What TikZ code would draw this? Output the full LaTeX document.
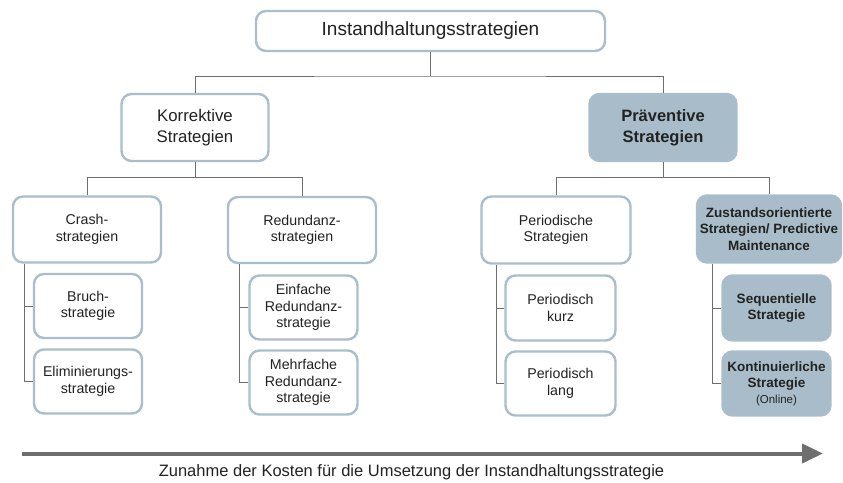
\documentclass[tikz,border=0pt]{standalone}
\usepackage{fontspec}
\setmainfont{Liberation Sans}
\usetikzlibrary{arrows.meta}
\definecolor{bord}{HTML}{A9BECA}
\definecolor{fillb}{HTML}{A8BDC9}
\definecolor{connc}{HTML}{6E6E6E}
\definecolor{txt}{HTML}{222222}
\begin{document}
\begin{tikzpicture}[x=1pt,y=-1pt,
  box/.style={draw=bord, line width=2.4pt, rounded corners=10pt, fill=white, align=center,
    text=txt, inner sep=0pt, anchor=center},
  pbox/.style={box, fill=fillb},
  lvtop/.style={font=\fontsize{19}{22}\selectfont},
  lvtwo/.style={font=\fontsize{16.8}{21}\selectfont},
  lvthree/.style={font=\fontsize{14.2}{16.5}\selectfont},
  lvbold/.style={font=\fontsize{13.5}{16.5}\selectfont\bfseries},
  conn/.style={draw=connc, line width=1pt}]
\useasboundingbox (0,0) rectangle (843,482);

% level 1
\node[box, lvtop, minimum width=349pt, minimum height=40pt] (top) at (430.5,31) {Instandhaltungsstrategien};
% level 2
\node[box, lvtwo, minimum width=147pt, minimum height=67pt] (korr) at (195,127.5) {Korrektive\\Strategien};
\node[pbox, font=\fontsize{16.5}{21}\selectfont\bfseries, minimum width=147pt, minimum height=67pt] (prav) at (663,127.5) {Präventive\\Strategien};
% level 3
\node[box, lvthree, minimum width=148pt, minimum height=66pt] (crash) at (87,229.5) {Crash-\\strategien};
\node[box, lvthree, minimum width=148pt, minimum height=66pt] (red) at (302,230) {Redundanz-\\strategien};
\node[box, lvthree, minimum width=149pt, minimum height=67pt] (per) at (556,230) {Periodische\\Strategien};
\node[pbox, lvbold, minimum width=144pt, minimum height=67pt] (zus) at (769,229) {Zustandsorientierte\\Strategien/ Predictive\\Maintenance};
% level 4
\node[box, lvthree, minimum width=108pt, minimum height=64pt] (bruch) at (88,306) {Bruch-\\strategie};
\node[box, lvthree, minimum width=108pt, minimum height=64pt] (elim) at (88,381.5) {Eliminierungs-\\strategie};
\node[box, lvthree, minimum width=108pt, minimum height=64pt] (einf) at (303.5,307.5) {Einfache\\Redundanz-\\strategie};
\node[box, lvthree, minimum width=108pt, minimum height=64pt] (mehr) at (303.5,382.5) {Mehrfache\\Redundanz-\\strategie};
\node[box, lvthree, minimum width=110pt, minimum height=65pt] (pkurz) at (560.5,308) {Periodisch\\kurz};
\node[box, lvthree, minimum width=110pt, minimum height=64pt] (plang) at (560.5,383.5) {Periodisch\\lang};
\node[pbox, lvbold, minimum width=108pt, minimum height=65pt] (seq) at (776.5,308) {Sequentielle\\Strategie};
\node[pbox, lvbold, minimum width=108pt, minimum height=64pt] (kont) at (776.5,383.5) {Kontinuierliche\\Strategie\\[-1pt]{\fontsize{11.5}{13}\selectfont\mdseries (Online)}};

% junctions
\coordinate (j1) at (430.5,76);
\coordinate (j2) at (195,177.5);
\coordinate (j3) at (663,177.5);
\coordinate (c1) at (24,264);
\coordinate (c2) at (239,264);
\coordinate (c3) at (496,265);
\coordinate (c4) at (712,264);

\draw[conn] (top.south) -- (j1);
\draw[conn] (korr.north) |- (j1) -| (prav.north);
\draw[conn] (korr.south) -- (j2);
\draw[conn] (crash.north) |- (j2) -| (red.north);
\draw[conn] (prav.south) -- (j3);
\draw[conn] (per.north) |- (j3) -| (zus.north);
\draw[conn] (c1) |- (bruch.west);
\draw[conn] (c1) |- (elim.west);
\draw[conn] (c2) |- (einf.west);
\draw[conn] (c2) |- (mehr.west);
\draw[conn] (c3) |- (pkurz.west);
\draw[conn] (c3) |- (plang.west);
\draw[conn] (c4) |- (seq.west);
\draw[conn] (c4) |- (kont.west);

% arrow
\coordinate (a0) at (22,453.5);
\coordinate (a1) at (823,453.5);
\draw[draw=connc, line width=4pt, -{Triangle[length=21pt,width=19pt]}] (a0) -- (a1);
\node[text=txt, font=\fontsize{16.5}{19}\selectfont, anchor=center] (lbl) at (411.5,472) {Zunahme der Kosten für die Umsetzung der Instandhaltungsstrategie};
\end{tikzpicture}
\end{document}
